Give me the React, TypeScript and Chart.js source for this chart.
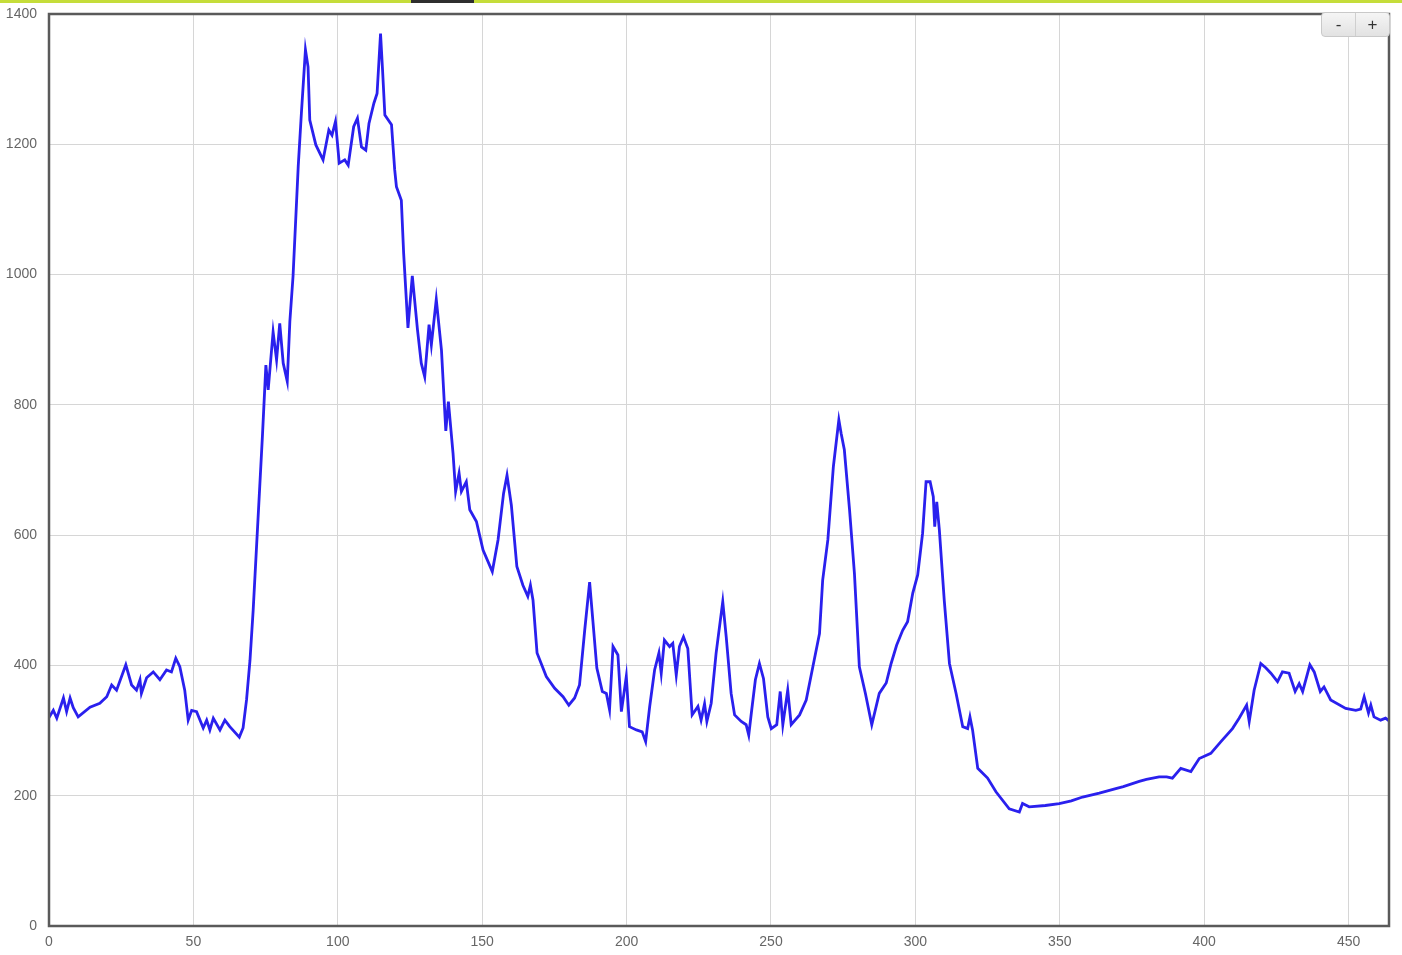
import React, { useEffect, useRef } from "react";
import { Chart, registerables } from "chart.js";

Chart.register(...registerables);

const xValues: number[] = [
  0, 1.5, 2.7, 5, 6.1, 7.3, 8.4, 10.1, 14.2, 17.6, 20, 21.7, 23.4, 26.6, 28.6, 30.3, 31.5, 32, 33.8, 36.1,
  38.4, 40.7, 42.4, 43.9, 45.3, 47, 48.2, 49.4, 51.1, 53.4, 54.6, 55.7, 56.9, 59.2, 60.9, 62.6, 65.9, 67.2, 68.4, 69.6,
  70.7, 73.9, 75.1, 75.9, 77.6, 78.8, 79.9, 81.1, 82.5, 83.4, 84.5, 86.3, 87.4, 88.8, 89.7, 90.3, 92.4, 94.9, 96.9, 98,
  99.2, 100.5, 102.4, 103.6, 105.5, 106.8, 108.2, 109.7, 110.8, 112.5, 113.6, 114.8, 115.5, 116.3, 118.6, 119.7, 120.3, 122, 122.8, 124.3,
  125.8, 127.6, 128.9, 130.1, 131.6, 132.4, 134.1, 135.9, 137.4, 138.3, 139.9, 140.8, 142, 142.8, 144.5, 145.7, 148, 150.3, 153.5, 155.5,
  157.4, 158.6, 160.1, 162, 164.1, 165.8, 166.7, 167.6, 169, 172.2, 175.1, 178, 180, 182, 183.7, 185.5, 187.2, 188.3, 189.7, 191.6,
  193, 194.1, 195.3, 197, 198.2, 199.9, 201, 203.4, 205.4, 206.6, 208, 209.7, 211.2, 212, 213.1, 214.9, 216, 217.2, 218.3, 219.7,
  221.2, 222.7, 224.7, 225.8, 227, 227.8, 229.3, 231, 233.3, 234.5, 236.2, 237.4, 239.7, 241.4, 242.3, 243.2, 244.6, 246, 247.4, 248.9,
  250.1, 252, 253.2, 254.1, 255.8, 257, 259.9, 262.2, 264.5, 266.8, 267.9, 269.7, 271.6, 273.5, 274.3, 275.4, 277.2, 278.9, 280.6, 282.7,
  284.9, 287.5, 289.9, 291.6, 293.5, 295.6, 297.3, 299.1, 300.8, 302.5, 303.7, 305.1, 306.2, 306.7, 307.4, 308.3, 310, 311.8, 314.1, 316.4,
  318.1, 318.9, 319.8, 321.6, 325, 327.9, 332.5, 336, 337.1, 339.4, 345, 349.8, 354, 357.9, 363.7, 369.4, 372, 377.5, 380, 384.4,
  387, 389, 391.9, 395.4, 398.3, 402.3, 405.8, 409.8, 412.1, 414.7, 415.6, 417.3, 419.6, 421.4, 423.1, 425.4, 427.1, 429.4, 431.5, 432.9,
  434.1, 436.6, 438.1, 440.2, 441.5, 443.8, 449, 452.5, 454.2, 455.4, 456.9, 457.7, 458.8, 461.1, 462.8, 464,
];

const yValues: number[] = [
  320, 331, 319, 350, 329, 350, 335, 321, 336, 342, 352, 370, 362, 401, 370, 362, 378, 357, 381, 390,
  378, 393, 390, 411, 398, 362, 316, 331, 329, 304, 316, 301, 319, 301, 316, 306, 290, 304, 347, 408,
  485, 752, 861, 823, 912, 869, 925, 864, 836, 928, 997, 1166, 1248, 1345, 1319, 1237, 1199, 1176, 1222, 1214,
  1235, 1171, 1176, 1168, 1227, 1240, 1196, 1191, 1232, 1263, 1278, 1370, 1314, 1245, 1230, 1161, 1135, 1114, 1033, 918,
  998, 915, 864, 843, 923, 892, 962, 884, 760, 805, 726, 667, 695, 667, 682, 639, 621, 577, 544, 593,
  664, 692, 646, 552, 523, 506, 523, 500, 419, 383, 365, 352, 339, 350, 370, 454, 528, 470, 396, 360,
  357, 332, 429, 416, 329, 383, 306, 301, 298, 283, 337, 393, 419, 388, 439, 429, 434, 385, 429, 444,
  426, 324, 337, 316, 341, 314, 342, 419, 498, 444, 357, 324, 314, 309, 293, 327, 378, 403, 380, 321,
  303, 309, 360, 309, 362, 309, 324, 347, 398, 449, 531, 593, 705, 777, 756, 731, 639, 541, 398, 357,
  309, 357, 373, 403, 431, 454, 467, 511, 539, 603, 682, 682, 659, 613, 651, 608, 500, 403, 357, 306,
  303, 321, 301, 242, 227, 206, 180, 175, 188, 183, 185, 188, 192, 198, 204, 211, 214, 222, 225, 229,
  229, 227, 242, 237, 257, 265, 283, 303, 319, 339, 314, 362, 403, 396, 388, 375, 390, 388, 360, 372,
  360, 401, 390, 360, 367, 347, 334, 331, 333, 352, 327, 339, 321, 316, 319, 315,
];

const xMin = 0;
const xMax = 464;
const xStep = 50;
const yMin = 0;
const yMax = 1400;
const yStep = 200;

const FONT = '"Liberation Sans", Arial, sans-serif';

const boxPlugin = {
  id: "plotBox",
  afterDraw(chart: any) {
    const { ctx, chartArea } = chart;
    ctx.save();
    ctx.strokeStyle = "#5a5a5a";
    ctx.lineWidth = 2.5;
    ctx.strokeRect(chartArea.left, chartArea.top, chartArea.right - chartArea.left, chartArea.bottom - chartArea.top);
    ctx.restore();
  },
};

export default function App() {
  const canvasRef = useRef<HTMLCanvasElement | null>(null);

  useEffect(() => {
    if (!canvasRef.current) return;
    const points = xValues.map((x, i) => ({ x, y: yValues[i] }));
    const chart = new Chart(canvasRef.current, {
      type: "line",
      data: {
        datasets: [
          {
            data: points,
            borderColor: "#2a20ee",
            borderWidth: 2.8,
            pointRadius: 0,
            tension: 0,
            fill: false,
          },
        ],
      },
      options: {
        animation: false,
        responsive: false,
        maintainAspectRatio: false,
        layout: { padding: { top: 14, right: 13, left: 0, bottom: 0 } },
        plugins: {
          legend: { display: false },
          tooltip: { enabled: false },
        },
        scales: {
          x: {
            type: "linear",
            min: xMin,
            max: xMax,
            afterFit(scale: any) {
              scale.height = 29;
              scale.paddingLeft = 0;
              scale.paddingRight = 0;
            },
            border: { display: false },
            grid: { color: "#d6d6d6", lineWidth: 1, drawTicks: false },
            ticks: {
              stepSize: xStep,
              includeBounds: false,
              color: "#666",
              font: { family: FONT, size: 14 },
              padding: 8,
              maxRotation: 0,
              callback: (v: any) => String(v),
            },
          },
          y: {
            type: "linear",
            min: yMin,
            max: yMax,
            afterFit(scale: any) {
              scale.width = 49;
              scale.paddingTop = 0;
              scale.paddingBottom = 0;
            },
            border: { display: false },
            grid: { color: "#d6d6d6", lineWidth: 1, drawTicks: false },
            ticks: {
              stepSize: yStep,
              includeBounds: false,
              color: "#666",
              font: { family: FONT, size: 14 },
              padding: 12,
              callback: (v: any) => String(v),
            },
          },
        },
      },
      plugins: [boxPlugin],
    });
    return () => chart.destroy();
  }, []);

  return (
    <div style={{ position: "fixed", left: 0, top: 0, width: 1402, height: 955, background: "#fff", overflow: "hidden" }}>
      <canvas ref={canvasRef} width={1402} height={955} style={{ display: "block", width: 1402, height: 955 }} />
      <div style={{ position: "absolute", left: 0, top: 0, width: 1402, height: 3, background: "#c5dd3a" }} />
      <div style={{ position: "absolute", left: 411, top: 0, width: 63, height: 3, background: "#2e2e2e" }} />
      <div
        style={{
          position: "absolute",
          left: 1321,
          top: 12,
          width: 69,
          height: 25,
          display: "flex",
          borderRadius: 4,
          border: "1px solid #c9c9c9",
          background: "linear-gradient(#f5f5f5, #e2e2e2)",
          boxSizing: "border-box",
          fontFamily: FONT,
          fontSize: 17,
          color: "#333",
        }}
      >
        <div style={{ flex: 1, display: "flex", alignItems: "center", justifyContent: "center", borderRight: "1px solid #cfcfcf" }}>-</div>
        <div style={{ flex: 1, display: "flex", alignItems: "center", justifyContent: "center" }}>+</div>
      </div>
    </div>
  );
}
